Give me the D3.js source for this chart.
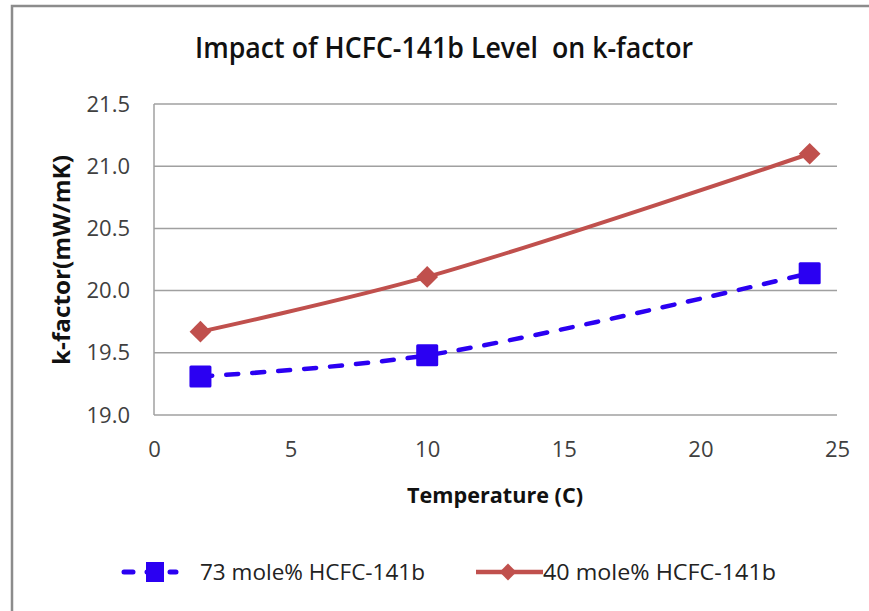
<!DOCTYPE html>
<html>
<head>
<meta charset="utf-8">
<script src="https://cdn.jsdelivr.net/npm/d3@7"></script>
<style>
  body { margin: 0; background: #fff; }
  text { font-family: "Liberation Sans Narrow", "Open Sans", sans-serif; }
</style>
</head>
<body>
<svg class="chart"></svg>
<script>
// data
const temps73 = [1.7, 10, 24];
const k73 = [19.31, 19.48, 20.14];
const temps40 = [1.7, 10, 24];
const k40 = [19.67, 20.11, 21.1];
const xTicks = [0, 5, 10, 15, 20, 25];
const yTicks = [19.0, 19.5, 20.0, 20.5, 21.0, 21.5];
const seriesNames = ["73 mole% HCFC-141b", "40 mole% HCFC-141b"];

const width = 869,
      height = 611;

const blue = "#2b00f2",
      red = "#c0504d",
      grid = "#a0a0a0";

const chart = d3.select(".chart")
  .attr("width", width)
  .attr("height", height);

// chart frame (only top and left edges show in the picture)
chart.append("path")
  .attr("d", `M12,${height} L12,6 L${width},6`)
  .attr("fill", "none")
  .attr("stroke", "#8c8c8c")
  .attr("stroke-width", 2.5);

// scales
const x = d3.scaleLinear().domain([0, 25]).range([154, 837]);
const y = d3.scaleLinear().domain([19.0, 21.5]).range([415, 104]);

// horizontal grid lines
chart.append("g")
  .selectAll("line")
  .data(yTicks)
  .enter()
  .append("line")
    .attr("x1", x(0))
    .attr("x2", x(25))
    .attr("y1", d => y(d))
    .attr("y2", d => y(d))
    .attr("stroke", grid)
    .attr("stroke-width", 1.5);

// left axis line
chart.append("line")
  .attr("x1", x(0)).attr("x2", x(0))
  .attr("y1", y(21.5)).attr("y2", y(19.0))
  .attr("stroke", grid)
  .attr("stroke-width", 1.5);

// y axis tick labels
const yAxis = chart.append("g")
  .attr("transform", `translate(${x(0)},0)`)
  .call(d3.axisLeft(y).tickValues(yTicks).tickFormat(d3.format(".1f")).tickSize(0).tickPadding(24));
yAxis.select(".domain").remove();
yAxis.selectAll("text")
  .attr("font-family", null)
  .attr("font-size", 22)
  .attr("fill", "#404040");

// x axis tick labels
const xAxis = chart.append("g")
  .attr("transform", `translate(0,${y(19.0)})`)
  .call(d3.axisBottom(x).tickValues(xTicks).tickSize(0).tickPadding(26));
xAxis.select(".domain").remove();
xAxis.selectAll("text")
  .attr("font-family", null)
  .attr("font-size", 22)
  .attr("fill", "#404040");

// title and axis titles
chart.append("text")
  .attr("x", 444)
  .attr("y", 58)
  .attr("text-anchor", "middle")
  .attr("font-size", 29)
  .attr("font-weight", 600)
  .attr("fill", "#111")
  .attr("textLength", 498)
  .attr("lengthAdjust", "spacingAndGlyphs")
  .style("white-space", "pre")
  .text("Impact of HCFC-141b Level  on k-factor");

chart.append("text")
  .attr("x", 495)
  .attr("y", 503)
  .attr("text-anchor", "middle")
  .attr("font-size", 22)
  .attr("font-weight", "bold")
  .attr("fill", "#111")
  .attr("textLength", 176)
  .attr("lengthAdjust", "spacingAndGlyphs")
  .text("Temperature (C)");

chart.append("text")
  .attr("transform", "translate(70,260) rotate(-90)")
  .attr("text-anchor", "middle")
  .attr("font-size", 23)
  .attr("font-weight", "bold")
  .attr("fill", "#111")
  .attr("textLength", 210)
  .attr("lengthAdjust", "spacingAndGlyphs")
  .text("k-factor(mW/mK)");

// smoothed lines
const line = d3.line()
  .x(d => x(d[0]))
  .y(d => y(d[1]))
  .curve(d3.curveCatmullRom);

const pts73 = temps73.map((t, i) => [t, k73[i]]);
const pts40 = temps40.map((t, i) => [t, k40[i]]);

chart.append("path")
  .attr("d", line(pts40))
  .attr("fill", "none")
  .attr("stroke", red)
  .attr("stroke-width", 4);

chart.append("path")
  .attr("d", line(pts73))
  .attr("fill", "none")
  .attr("stroke", blue)
  .attr("stroke-width", 4.5)
  .attr("stroke-linecap", "round")
  .attr("stroke-dasharray", "12,14");

// markers
const diamond = d3.symbol().type(d3.symbolDiamond2).size(300);

chart.append("g")
  .selectAll("path")
  .data(pts40)
  .enter()
  .append("path")
    .attr("d", diamond)
    .attr("transform", d => `translate(${x(d[0])},${y(d[1])})`)
    .attr("fill", red);

chart.append("g")
  .selectAll("rect")
  .data(pts73)
  .enter()
  .append("rect")
    .attr("x", d => x(d[0]) - 11)
    .attr("y", d => y(d[1]) - 11)
    .attr("width", 22)
    .attr("height", 22)
    .attr("rx", 1.5)
    .attr("fill", blue);

// legend
const legend = chart.append("g");

legend.append("line")
  .attr("x1", 124).attr("x2", 176)
  .attr("y1", 572).attr("y2", 572)
  .attr("stroke", blue)
  .attr("stroke-width", 5)
  .attr("stroke-linecap", "round")
  .attr("stroke-dasharray", "9,14");
legend.append("rect")
  .attr("x", 146).attr("y", 562)
  .attr("width", 18).attr("height", 20)
  .attr("fill", blue);
legend.append("text")
  .attr("x", 200).attr("y", 580)
  .attr("font-size", 22)
  .attr("fill", "#222")
  .attr("textLength", 225)
  .attr("lengthAdjust", "spacingAndGlyphs")
  .text(seriesNames[0]);

legend.append("line")
  .attr("x1", 476).attr("x2", 543)
  .attr("y1", 572).attr("y2", 572)
  .attr("stroke", red)
  .attr("stroke-width", 4.5);
legend.append("path")
  .attr("d", d3.symbol().type(d3.symbolDiamond2).size(180))
  .attr("transform", "translate(508,572)")
  .attr("fill", red);
legend.append("text")
  .attr("x", 543).attr("y", 580)
  .attr("font-size", 22)
  .attr("fill", "#222")
  .attr("textLength", 233)
  .attr("lengthAdjust", "spacingAndGlyphs")
  .text(seriesNames[1]);
</script>
</body>
</html>
